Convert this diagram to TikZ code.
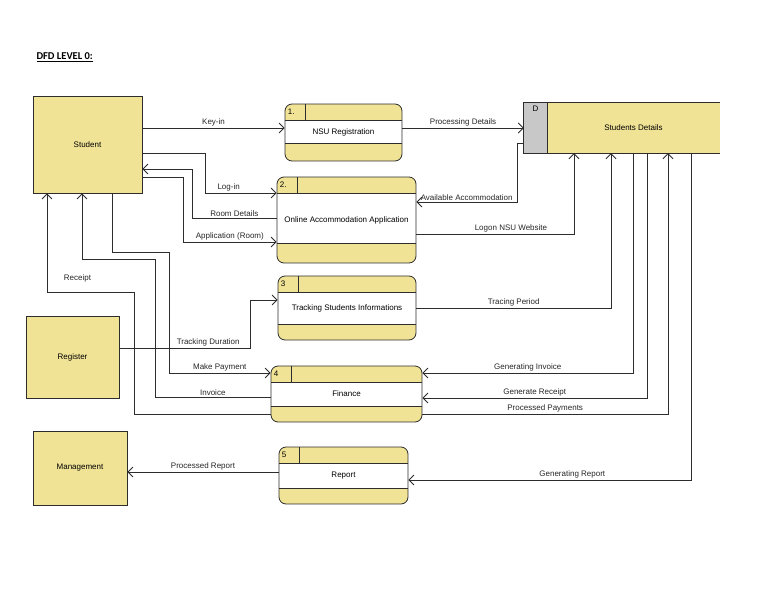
\documentclass[tikz,border=0pt]{standalone}
\usepackage{fontspec}
\setmainfont{Liberation Sans}
\newfontfamily\titlefont{Carlito}
\usepackage{xcolor}
\usetikzlibrary{arrows.meta, positioning, calc}

\definecolor{dfdyellow}{RGB}{240,227,150}
\definecolor{dfdgray}{RGB}{200,200,200}
\definecolor{dfdline}{RGB}{45,45,45}

\begin{document}
\begin{tikzpicture}[x=1pt, y=-1pt,
  entity/.style={rectangle, draw=dfdline, fill=dfdyellow, line width=0.8pt, font=\fontsize{8}{9.5}\selectfont},
  proc/.style={rectangle, draw=dfdline, fill=white, rounded corners=7pt, line width=0.8pt, font=\fontsize{8}{9.5}\selectfont,
    path picture={
      \fill[dfdyellow, sharp corners] (path picture bounding box.north west) rectangle ([yshift=-16pt]path picture bounding box.north east);
      \fill[dfdyellow, sharp corners] (path picture bounding box.south west) rectangle ([yshift=#1]path picture bounding box.south east);
      \draw[dfdline, line width=0.8pt, sharp corners] ([yshift=-16pt]path picture bounding box.north west) -- ([yshift=-16pt]path picture bounding box.north east);
      \draw[dfdline, line width=0.8pt, sharp corners] ([yshift=#1]path picture bounding box.south west) -- ([yshift=#1]path picture bounding box.south east);
      \draw[dfdline, line width=0.8pt, sharp corners] ([xshift=20pt]path picture bounding box.north west) -- ([xshift=20pt, yshift=-16pt]path picture bounding box.north west);
    }},
  proc/.default=16pt,
  store/.style={rectangle, fill=dfdyellow, minimum height=50pt, font=\fontsize{8}{9.5}\selectfont},
  storeid/.style={rectangle, fill=dfdgray, minimum height=50pt, minimum width=23pt},
  numtext/.style={font=\fontsize{8}{9.5}\selectfont, inner sep=3pt},
  lbl/.style={font=\fontsize{8}{9.5}\selectfont, text=black!85, inner sep=1.5pt},
  flow/.style={draw=dfdline, line width=0.8pt, -{Straight Barb[length=5pt, width=10pt]}}
]
\useasboundingbox (0,0) rectangle (768,594);

\node[anchor=west, font=\titlefont\bfseries\fontsize{10.5}{12}\selectfont] (title) at (33,57) {\underline{DFD LEVEL 0:}};

% external entities
\node[entity, minimum width=109pt, minimum height=97pt] (student) at (87.5,144.5) {Student};
\node[entity, minimum width=93pt, minimum height=82pt] (register) at (72.5,357) {Register};
\node[entity, minimum width=94pt, minimum height=74pt] (management) at (80,468) {Management};

% processes
\node[proc=18pt, minimum width=117pt, minimum height=57pt] (p1) at (343.5,132.5) {NSU Registration};
\node[proc=20pt, minimum width=139pt, minimum height=86pt] (p2) at (346.5,220) {Online Accommodation Application};
\node[proc, minimum width=138pt, minimum height=64pt] (p3) at (347,308) {Tracking Students Informations};
\node[proc, minimum width=151pt, minimum height=56pt] (p4) at (346.5,394) {Finance};
\node[proc, minimum width=129pt, minimum height=57pt] (p5) at (343.5,475.5) {Report};
\node[numtext, anchor=west] (p1num) at ([yshift=-8pt]p1.north west) {1.};
\node[numtext, anchor=west] (p2num) at ([yshift=-8pt]p2.north west) {2.};
\node[numtext, anchor=west] (p3num) at ([yshift=-8pt]p3.north west) {3};
\node[numtext, anchor=west] (p4num) at ([yshift=-8pt]p4.north west) {4};
\node[numtext, anchor=west] (p5num) at ([yshift=-8pt]p5.north west) {5};

% data store
\node[store, minimum width=173pt] (store) at (633.5,128) {Students Details};
\node[storeid] (storeid) at (535.5,128) {};
\node[numtext, anchor=north] (storeD) at (storeid.north) {D};
\draw[dfdline, line width=0.8pt] (store.north east) -- (storeid.north west) -- (storeid.south west) -- (store.south east);
\draw[dfdline, line width=0.6pt] (storeid.north east) -- (storeid.south east);

% student <-> registration / application
\draw[flow] (student.east |- 0,128) -- node[lbl, above] {Key-in} (p1.west |- 0,128);
\draw[flow] (p1.east |- 0,128) -- node[lbl, above] {Processing Details} (storeid.west |- 0,128);
\draw[flow] (student.east |- 0,153) -| (205,193) -- node[lbl, above, pos=0.33] {Log-in} (p2.west |- 0,193);
\draw[flow] (p2.west |- 0,218) -- node[lbl, above] {Room Details} (192,218) |- (student.east |- 0,169);
\draw[flow] (student.east |- 0,177) -| (183,242) -- node[lbl, above] {Application (Room)} (p2.west |- 0,242);

% data store flows
\draw[flow] (storeid.west |- 0,143) -- (517,143) |- node[lbl, above, pos=0.75] {Available Accommodation} (p2.east |- 0,202);
\draw[flow] (p2.east |- 0,234) -| node[lbl, above, pos=0.3] {Logon NSU Website} (574,0 |- store.south);
\draw[flow] (p3.east) -| node[lbl, above, pos=0.25] {Tracing Period} (611,0 |- store.south);
\draw[flow] (633,0 |- store.south) |- node[lbl, above, pos=0.75] {Generating Invoice} (p4.east |- 0,373);
\draw[flow] (647,0 |- store.south) |- node[lbl, above, pos=0.75] {Generate Receipt} (p4.east |- 0,398);
\draw[flow] (p4.east |- 0,414) -| node[lbl, above, pos=0.25] {Processed Payments} (668,0 |- store.south);
\draw[flow] (691,0 |- store.south) |- node[lbl, above, pos=0.71] {Generating Report} (p5.east |- 0,480);

% register / student <-> tracking and finance
\draw[flow] (register.east |- 0,348) -- node[lbl, above, pos=0.68] {Tracking Duration} (250,348) |- (p3.west |- 0,300);
\draw[flow] (112,0 |- student.south) |- (169,252) |- node[lbl, above, pos=0.75] {Make Payment} (p4.west |- 0,373);
\draw[flow] (p4.west |- 0,397) -| node[lbl, above, pos=0.25] {Invoice} (155,259) -| (82,0 |- student.south);
\draw[flow] (p4.west |- 0,414) -| (134,292) -- node[lbl, above=8pt, pos=0.65] {Receipt} (47,292) -- (47,0 |- student.south);

% report
\draw[flow] (p5.west |- 0,472) -- node[lbl, above] {Processed Report} (management.east |- 0,472);

\end{tikzpicture}
\end{document}
